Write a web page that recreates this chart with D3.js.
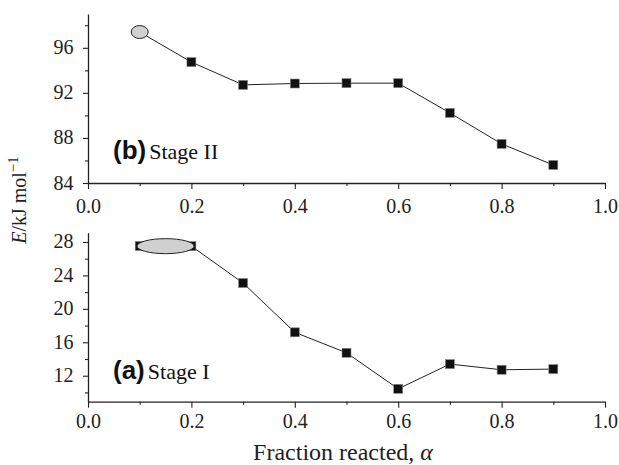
<!DOCTYPE html>
<html><head><meta charset="utf-8">
<script src="https://cdn.jsdelivr.net/npm/d3@7"></script>
<style>body{margin:0;background:#fff} svg text{font-family:"Liberation Serif",serif;} .sansb{font-family:"Liberation Sans",Arial,sans-serif !important;font-weight:bold}</style>
</head><body>
<svg id="c" width="619" height="465"></svg>
<script>
const alpha = [0.1,0.2,0.3,0.4,0.5,0.6,0.7,0.8,0.9];
const stageII = [97.4,94.73,92.71,92.83,92.86,92.86,90.22,87.47,85.6];
const stageI = [27.52,27.5,23.09,17.19,14.74,10.43,13.39,12.71,12.79];
const xTicks = [0.0,0.2,0.4,0.6,0.8,1.0];
const yTicksII = [84,88,92,96];
const yTicksI = [12,16,20,24,28];

const svg = d3.select("#c");
const x = d3.scaleLinear().domain([0,1]).range([88,605]);
const yTop = d3.scaleLinear().domain([84,99]).range([183,14]);
const yBot = d3.scaleLinear().domain([8.89,29.11]).range([401.7,232.7]);

function panel(y, vals, yTicks, yMinor, axisY, xLabGap, ellipse, tag, stage, labelY){
  const g = svg.append("g");
  const xa = g.append("g").attr("transform",`translate(0,${axisY})`)
    .call(d3.axisBottom(x).tickValues(xTicks).tickFormat(d3.format(".1f")).tickSize(6).tickSizeOuter(0));
  g.append("g").attr("transform",`translate(0,${axisY})`)
    .call(d3.axisBottom(x).tickValues(d3.range(0.1,1,0.2)).tickFormat("").tickSize(3).tickSizeOuter(0))
    .select(".domain").remove();
  const ya = g.append("g").attr("transform","translate(88,0)")
    .call(d3.axisLeft(y).tickValues(yTicks).tickSize(5).tickSizeOuter(0));
  g.append("g").attr("transform","translate(88,0)")
    .call(d3.axisLeft(y).tickValues(yMinor).tickFormat("").tickSize(3).tickSizeOuter(0))
    .select(".domain").remove();
  g.selectAll("g").attr("font-family",null).attr("font-size",null);
  g.selectAll(".domain").attr("stroke","#222").attr("stroke-width",1.3);
  g.selectAll(".tick line").attr("stroke","#222").attr("stroke-width",1.1);
  xa.selectAll("text").attr("font-size",20).attr("fill","#222")
    .attr("y",xLabGap).attr("dy",0);
  ya.selectAll("text").attr("font-size",20).attr("fill","#222")
    .attr("x",-14.5).attr("dy","0.3em");

  const line = d3.line().x((d,i)=>x(alpha[i])).y(d=>y(d));
  g.append("path").datum(vals).attr("d",line).attr("fill","none").attr("stroke","#222").attr("stroke-width",1);
  g.selectAll("rect.m").data(vals).join("rect").attr("class","m")
    .attr("x",(d,i)=>x(alpha[i])-4.5).attr("y",d=>y(d)-4.5).attr("width",9).attr("height",9)
    .attr("fill","#111").attr("stroke","#888").attr("stroke-width",0.6);
  g.append("ellipse").attr("cx",x(ellipse.cx)).attr("cy",y(ellipse.cy))
    .attr("rx",ellipse.rx).attr("ry",ellipse.ry)
    .attr("fill","#d0d0d0").attr("stroke","#222").attr("stroke-width",1);

  const t = g.append("text").attr("x",113).attr("y",labelY).attr("fill","#111");
  t.append("tspan").attr("class","sansb").attr("font-size",26).text(tag);
  t.append("tspan").attr("font-size",22).attr("dx",3).text(stage);
}

panel(yTop, stageII, yTicksII, [86,90,94,98], 183, 30, {cx:0.1, cy:97.4, rx:8.5, ry:6.5}, "(b)", "Stage II", 159);
panel(yBot, stageI, yTicksI, [10,14,18,22,26], 401.7, 26.6, {cx:0.15, cy:27.5, rx:28.5, ry:7.5}, "(a)", "Stage I", 379);

const yl = svg.append("text").attr("transform","translate(26,200) rotate(-90)")
  .attr("text-anchor","middle").attr("font-size",20).attr("fill","#222");
yl.append("tspan").attr("font-style","italic").text("E");
yl.append("tspan").text("/kJ mol");
yl.append("tspan").attr("font-size",15).attr("dy",-8).text("\u22121");

const xl = svg.append("text").attr("x",343).attr("y",460).attr("text-anchor","middle")
  .attr("font-size",24).attr("fill","#222");
xl.append("tspan").text("Fraction reacted, ");
xl.append("tspan").attr("font-style","italic").text("\u03b1");
</script>
</body></html>
